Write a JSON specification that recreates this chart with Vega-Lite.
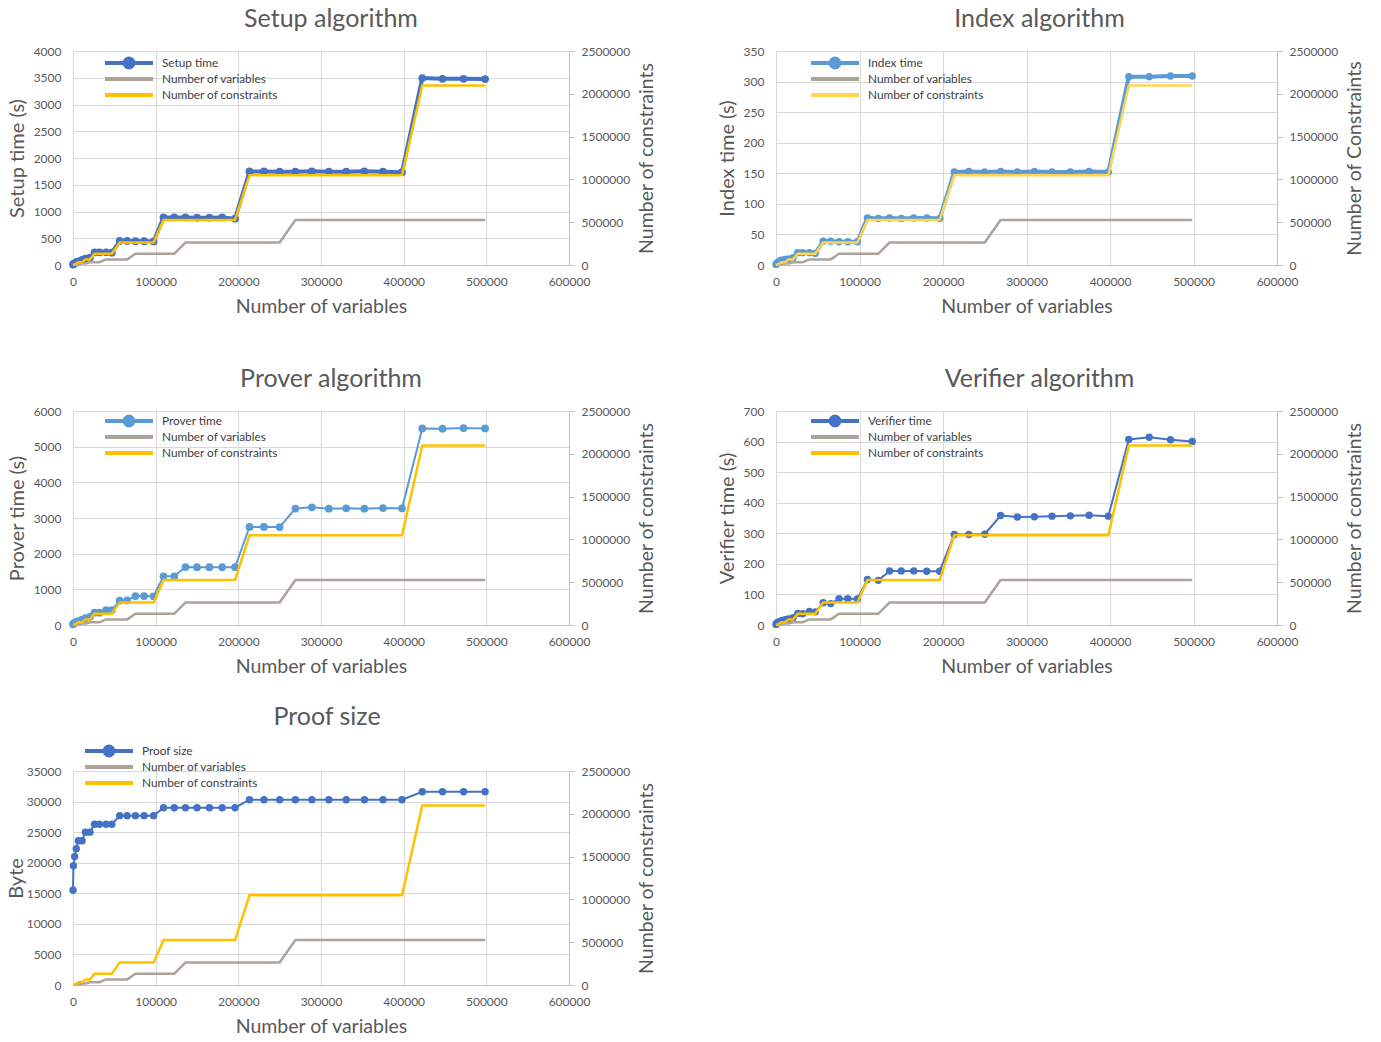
{
"$schema": "https://vega.github.io/schema/vega-lite/v6.json",
"background": "white",
"padding": {"left": 6, "top": 7, "right": 0, "bottom": 0},
"datasets": {
"t": [
{"x":0,"setup":8,"index":1,"prover":20,"verifier":2,"proof":15500,"vars":128,"cons":512},
{"x":500,"setup":20,"index":2,"prover":40,"verifier":5,"proof":19500,"vars":1024,"cons":2048},
{"x":2000,"setup":35,"index":4,"prover":60,"verifier":8,"proof":21000,"vars":2048,"cons":8192},
{"x":4000,"setup":55,"index":6,"prover":85,"verifier":11,"proof":22300,"vars":4096,"cons":16384},
{"x":6500,"setup":70,"index":8,"prover":110,"verifier":14,"proof":23600,"vars":8192,"cons":32768},
{"x":11000,"setup":95,"index":9,"prover":150,"verifier":17,"proof":23600,"vars":16384,"cons":32768},
{"x":15000,"setup":120,"index":10,"prover":190,"verifier":20,"proof":25000,"vars":16384,"cons":65536},
{"x":20500,"setup":140,"index":12,"prover":230,"verifier":24,"proof":25000,"vars":32768,"cons":65536},
{"x":26000,"setup":235,"index":20,"prover":345,"verifier":38,"proof":26300,"vars":32768,"cons":131072},
{"x":32000,"setup":235,"index":20,"prover":345,"verifier":37,"proof":26300,"vars":32768,"cons":131072},
{"x":40000,"setup":235,"index":20,"prover":420,"verifier":44,"proof":26300,"vars":65536,"cons":131072},
{"x":47000,"setup":230,"index":19,"prover":415,"verifier":43,"proof":26300,"vars":65536,"cons":131072},
{"x":56500,"setup":450,"index":39,"prover":680,"verifier":73,"proof":27700,"vars":65536,"cons":262144},
{"x":65500,"setup":450,"index":39,"prover":690,"verifier":70,"proof":27700,"vars":65536,"cons":262144},
{"x":75500,"setup":445,"index":38,"prover":810,"verifier":86,"proof":27700,"vars":131072,"cons":262144},
{"x":86000,"setup":445,"index":38,"prover":810,"verifier":86,"proof":27700,"vars":131072,"cons":262144},
{"x":97500,"setup":440,"index":38,"prover":805,"verifier":85,"proof":27700,"vars":131072,"cons":262144},
{"x":109500,"setup":890,"index":77,"prover":1365,"verifier":149,"proof":29000,"vars":131072,"cons":524288},
{"x":122500,"setup":890,"index":76,"prover":1365,"verifier":146,"proof":29000,"vars":131072,"cons":524288},
{"x":136000,"setup":890,"index":77,"prover":1625,"verifier":177,"proof":29000,"vars":262144,"cons":524288},
{"x":150000,"setup":885,"index":76,"prover":1620,"verifier":177,"proof":29000,"vars":262144,"cons":524288},
{"x":165000,"setup":885,"index":77,"prover":1620,"verifier":177,"proof":29000,"vars":262144,"cons":524288},
{"x":180500,"setup":890,"index":77,"prover":1620,"verifier":176,"proof":29000,"vars":262144,"cons":524288},
{"x":196000,"setup":865,"index":76,"prover":1620,"verifier":176,"proof":29000,"vars":262144,"cons":524288},
{"x":213500,"setup":1750,"index":152,"prover":2750,"verifier":296,"proof":30300,"vars":262144,"cons":1048576},
{"x":231000,"setup":1750,"index":153,"prover":2750,"verifier":296,"proof":30300,"vars":262144,"cons":1048576},
{"x":250000,"setup":1745,"index":152,"prover":2745,"verifier":297,"proof":30300,"vars":262144,"cons":1048576},
{"x":269000,"setup":1745,"index":153,"prover":3265,"verifier":358,"proof":30300,"vars":524288,"cons":1048576},
{"x":289000,"setup":1750,"index":152,"prover":3300,"verifier":353,"proof":30300,"vars":524288,"cons":1048576},
{"x":309500,"setup":1745,"index":153,"prover":3260,"verifier":354,"proof":30300,"vars":524288,"cons":1048576},
{"x":330500,"setup":1745,"index":152,"prover":3270,"verifier":356,"proof":30300,"vars":524288,"cons":1048576},
{"x":352500,"setup":1750,"index":152,"prover":3260,"verifier":357,"proof":30300,"vars":524288,"cons":1048576},
{"x":375000,"setup":1745,"index":153,"prover":3280,"verifier":359,"proof":30300,"vars":524288,"cons":1048576},
{"x":398000,"setup":1735,"index":152,"prover":3270,"verifier":356,"proof":30300,"vars":524288,"cons":1048576},
{"x":422500,"setup":3495,"index":308,"prover":5510,"verifier":607,"proof":31600,"vars":524288,"cons":2097152},
{"x":447000,"setup":3480,"index":308,"prover":5505,"verifier":614,"proof":31600,"vars":524288,"cons":2097152},
{"x":472500,"setup":3480,"index":309,"prover":5520,"verifier":606,"proof":31600,"vars":524288,"cons":2097152},
{"x":498500,"setup":3475,"index":309,"prover":5510,"verifier":600,"proof":31600,"vars":524288,"cons":2097152}
]
},
"columns": 2,
"spacing": {"row": 146, "column": 207},
"bounds": "flush",
"resolve": {"scale": {"color": "independent"}, "legend": {"color": "independent"}},
"concat": [
{
"width": 496, "height": 214,
"title": {"text": "Setup algorithm", "dx": 10},
"data": {"name": "t"},
"encoding": {"x": {"field": "x", "type": "quantitative", "scale": {"domain": [0, 600000], "nice": false}, "axis": {"title": "Number of variables", "values": [0,100000,200000,300000,400000,500000,600000]}}},
"resolve": {"scale": {"y": "independent"}, "axis": {"y": "independent"}},
"layer": [
{"mark": {"type": "line", "strokeWidth": 4, "point": {"filled": true, "size": 60}},
 "encoding": {
  "y": {"field": "setup", "type": "quantitative", "scale": {"domain": [0, 4000], "nice": false}, "axis": {"title": "Setup time (s)", "values": [0,500,1000,1500,2000,2500,3000,3500,4000]}},
  "color": {"datum": "Setup time", "scale": {"domain": ["Setup time", "Number of variables", "Number of constraints"], "range": ["#4472C4", "#ADA39B", "#FFC000"]},
   "legend": {"legendX": 32, "legendY": 4, "encode": {"symbols": {"update": {"shape": {"signal": "datum.value === 'Setup time' ? 'M-1,-0.25L5,-0.25L5,0.25L-1,0.25Z M2.8,0L2.739,0.306L2.566,0.566L2.306,0.739L2,0.8L1.694,0.739L1.434,0.566L1.261,0.306L1.2,0L1.261,-0.306L1.434,-0.566L1.694,-0.739L2,-0.8L2.306,-0.739L2.566,-0.566L2.739,-0.306Z' : 'M-1,-0.25L5,-0.25L5,0.25L-1,0.25Z M2,-0.8L2,-0.8Z M2,0.8L2,0.8Z'"}, "fill": {"signal": "datum.value === 'Setup time' ? '#00B0F0' : datum.value === 'Number of variables' ? '#A5A5A5' : '#FFC000'"}, "stroke": {"value": "transparent"}, "strokeWidth": {"value": 0}}}}}}
 }},
{"mark": {"type": "line", "strokeWidth": 2.5},
 "encoding": {
  "y": {"field": "vars", "type": "quantitative", "scale": {"domain": [0, 2500000], "nice": false}, "axis": {"orient": "right", "title": "Number of constraints", "values": [0,500000,1000000,1500000,2000000,2500000], "grid": false, "domain": true, "ticks": true, "tickSize": 5, "labelPadding": 7, "titlePadding": 8, "titleFontSize": 19.5, "titleAngle": 270, "titleBaseline": "top"}},
  "color": {"datum": "Number of variables"}
 }},
{"mark": {"type": "line", "strokeWidth": 2.5},
 "encoding": {
  "y": {"field": "cons", "type": "quantitative", "scale": {"domain": [0, 2500000], "nice": false}, "axis": null},
  "color": {"datum": "Number of constraints"}
 }}
]
},
{
"width": 501, "height": 214,
"title": {"text": "Index algorithm", "dx": 13},
"data": {"name": "t"},
"encoding": {"x": {"field": "x", "type": "quantitative", "scale": {"domain": [0, 600000], "nice": false}, "axis": {"title": "Number of variables", "values": [0,100000,200000,300000,400000,500000,600000]}}},
"resolve": {"scale": {"y": "independent"}, "axis": {"y": "independent"}},
"layer": [
{"mark": {"type": "line", "strokeWidth": 4, "point": {"filled": true, "size": 55}},
 "encoding": {
  "y": {"field": "index", "type": "quantitative", "scale": {"domain": [0, 350], "nice": false}, "axis": {"title": "Index time (s)", "values": [0,50,100,150,200,250,300,350]}},
  "color": {"datum": "Index time", "scale": {"domain": ["Index time", "Number of variables", "Number of constraints"], "range": ["#5B9BD5", "#ADA39B", "#FFD54F"]},
   "legend": {"legendX": 35, "legendY": 4, "encode": {"symbols": {"update": {"shape": {"signal": "datum.value === 'Index time' ? 'M-1,-0.25L5,-0.25L5,0.25L-1,0.25Z M2.8,0L2.739,0.306L2.566,0.566L2.306,0.739L2,0.8L1.694,0.739L1.434,0.566L1.261,0.306L1.2,0L1.261,-0.306L1.434,-0.566L1.694,-0.739L2,-0.8L2.306,-0.739L2.566,-0.566L2.739,-0.306Z' : 'M-1,-0.25L5,-0.25L5,0.25L-1,0.25Z M2,-0.8L2,-0.8Z M2,0.8L2,0.8Z'"}, "fill": {"signal": "datum.value === 'Index time' ? '#00B0F0' : datum.value === 'Number of variables' ? '#A5A5A5' : '#FFC000'"}, "stroke": {"value": "transparent"}, "strokeWidth": {"value": 0}}}}}}
 }},
{"mark": {"type": "line", "strokeWidth": 2.5},
 "encoding": {
  "y": {"field": "vars", "type": "quantitative", "scale": {"domain": [0, 2500000], "nice": false}, "axis": {"orient": "right", "title": "Number of Constraints", "values": [0,500000,1000000,1500000,2000000,2500000], "grid": false, "domain": true, "ticks": true, "tickSize": 5, "labelPadding": 7, "titlePadding": 8, "titleFontSize": 19.5, "titleAngle": 270, "titleBaseline": "top"}},
  "color": {"datum": "Number of variables"}
 }},
{"mark": {"type": "line", "strokeWidth": 2.5},
 "encoding": {
  "y": {"field": "cons", "type": "quantitative", "scale": {"domain": [0, 2500000], "nice": false}, "axis": null},
  "color": {"datum": "Number of constraints"}
 }}
]
},
{
"width": 496, "height": 214,
"title": {"text": "Prover algorithm", "dx": 10},
"data": {"name": "t"},
"encoding": {"x": {"field": "x", "type": "quantitative", "scale": {"domain": [0, 600000], "nice": false}, "axis": {"title": "Number of variables", "values": [0,100000,200000,300000,400000,500000,600000]}}},
"resolve": {"scale": {"y": "independent"}, "axis": {"y": "independent"}},
"layer": [
{"mark": {"type": "line", "strokeWidth": 2, "point": {"filled": true, "size": 60}},
 "encoding": {
  "y": {"field": "prover", "type": "quantitative", "scale": {"domain": [0, 6000], "nice": false}, "axis": {"title": "Prover time (s)", "values": [0,1000,2000,3000,4000,5000,6000]}},
  "color": {"datum": "Prover time", "scale": {"domain": ["Prover time", "Number of variables", "Number of constraints"], "range": ["#5B9BD5", "#ADA39B", "#FFC000"]},
   "legend": {"legendX": 32, "legendY": 2, "encode": {"symbols": {"update": {"shape": {"signal": "datum.value === 'Prover time' ? 'M-1,-0.25L5,-0.25L5,0.25L-1,0.25Z M2.8,0L2.739,0.306L2.566,0.566L2.306,0.739L2,0.8L1.694,0.739L1.434,0.566L1.261,0.306L1.2,0L1.261,-0.306L1.434,-0.566L1.694,-0.739L2,-0.8L2.306,-0.739L2.566,-0.566L2.739,-0.306Z' : 'M-1,-0.25L5,-0.25L5,0.25L-1,0.25Z M2,-0.8L2,-0.8Z M2,0.8L2,0.8Z'"}, "fill": {"signal": "datum.value === 'Prover time' ? '#00B0F0' : datum.value === 'Number of variables' ? '#A5A5A5' : '#FFC000'"}, "stroke": {"value": "transparent"}, "strokeWidth": {"value": 0}}}}}}
 }},
{"mark": {"type": "line", "strokeWidth": 2.5},
 "encoding": {
  "y": {"field": "vars", "type": "quantitative", "scale": {"domain": [0, 2500000], "nice": false}, "axis": {"orient": "right", "title": "Number of constraints", "values": [0,500000,1000000,1500000,2000000,2500000], "grid": false, "domain": true, "ticks": true, "tickSize": 5, "labelPadding": 7, "titlePadding": 8, "titleFontSize": 19.5, "titleAngle": 270, "titleBaseline": "top"}},
  "color": {"datum": "Number of variables"}
 }},
{"mark": {"type": "line", "strokeWidth": 2.5},
 "encoding": {
  "y": {"field": "cons", "type": "quantitative", "scale": {"domain": [0, 2500000], "nice": false}, "axis": null},
  "color": {"datum": "Number of constraints"}
 }}
]
},
{
"width": 501, "height": 214,
"title": {"text": "Verifier algorithm", "dx": 13},
"data": {"name": "t"},
"encoding": {"x": {"field": "x", "type": "quantitative", "scale": {"domain": [0, 600000], "nice": false}, "axis": {"title": "Number of variables", "values": [0,100000,200000,300000,400000,500000,600000]}}},
"resolve": {"scale": {"y": "independent"}, "axis": {"y": "independent"}},
"layer": [
{"mark": {"type": "line", "strokeWidth": 2, "point": {"filled": true, "size": 55}},
 "encoding": {
  "y": {"field": "verifier", "type": "quantitative", "scale": {"domain": [0, 700], "nice": false}, "axis": {"title": "Verifier time (s)", "values": [0,100,200,300,400,500,600,700]}},
  "color": {"datum": "Verifier time", "scale": {"domain": ["Verifier time", "Number of variables", "Number of constraints"], "range": ["#4472C4", "#ADA39B", "#FFC000"]},
   "legend": {"legendX": 35, "legendY": 2, "encode": {"symbols": {"update": {"shape": {"signal": "datum.value === 'Verifier time' ? 'M-1,-0.25L5,-0.25L5,0.25L-1,0.25Z M2.8,0L2.739,0.306L2.566,0.566L2.306,0.739L2,0.8L1.694,0.739L1.434,0.566L1.261,0.306L1.2,0L1.261,-0.306L1.434,-0.566L1.694,-0.739L2,-0.8L2.306,-0.739L2.566,-0.566L2.739,-0.306Z' : 'M-1,-0.25L5,-0.25L5,0.25L-1,0.25Z M2,-0.8L2,-0.8Z M2,0.8L2,0.8Z'"}, "fill": {"signal": "datum.value === 'Verifier time' ? '#00B0F0' : datum.value === 'Number of variables' ? '#A5A5A5' : '#FFC000'"}, "stroke": {"value": "transparent"}, "strokeWidth": {"value": 0}}}}}}
 }},
{"mark": {"type": "line", "strokeWidth": 2.5},
 "encoding": {
  "y": {"field": "vars", "type": "quantitative", "scale": {"domain": [0, 2500000], "nice": false}, "axis": {"orient": "right", "title": "Number of constraints", "values": [0,500000,1000000,1500000,2000000,2500000], "grid": false, "domain": true, "ticks": true, "tickSize": 5, "labelPadding": 7, "titlePadding": 8, "titleFontSize": 19.5, "titleAngle": 270, "titleBaseline": "top"}},
  "color": {"datum": "Number of variables"}
 }},
{"mark": {"type": "line", "strokeWidth": 2.5},
 "encoding": {
  "y": {"field": "cons", "type": "quantitative", "scale": {"domain": [0, 2500000], "nice": false}, "axis": null},
  "color": {"datum": "Number of constraints"}
 }}
]
},
{
"width": 496, "height": 214,
"title": {"text": "Proof size", "dx": 6},
"data": {"name": "t"},
"encoding": {"x": {"field": "x", "type": "quantitative", "scale": {"domain": [0, 600000], "nice": false}, "axis": {"title": "Number of variables", "values": [0,100000,200000,300000,400000,500000,600000]}}},
"resolve": {"scale": {"y": "independent"}, "axis": {"y": "independent"}},
"layer": [
{"mark": {"type": "line", "strokeWidth": 2, "point": {"filled": true, "size": 55}},
 "encoding": {
  "y": {"field": "proof", "type": "quantitative", "scale": {"domain": [0, 35000], "nice": false}, "axis": {"title": "Byte", "titlePadding": 0, "values": [0,5000,10000,15000,20000,25000,30000,35000]}},
  "color": {"datum": "Proof size", "scale": {"domain": ["Proof size", "Number of variables", "Number of constraints"], "range": ["#4472C4", "#ADA39B", "#FFC000"]},
   "legend": {"legendX": 12, "legendY": -28, "encode": {"symbols": {"update": {"shape": {"signal": "datum.value === 'Proof size' ? 'M-1,-0.25L5,-0.25L5,0.25L-1,0.25Z M2.8,0L2.739,0.306L2.566,0.566L2.306,0.739L2,0.8L1.694,0.739L1.434,0.566L1.261,0.306L1.2,0L1.261,-0.306L1.434,-0.566L1.694,-0.739L2,-0.8L2.306,-0.739L2.566,-0.566L2.739,-0.306Z' : 'M-1,-0.25L5,-0.25L5,0.25L-1,0.25Z M2,-0.8L2,-0.8Z M2,0.8L2,0.8Z'"}, "fill": {"signal": "datum.value === 'Proof size' ? '#00B0F0' : datum.value === 'Number of variables' ? '#A5A5A5' : '#FFC000'"}, "stroke": {"value": "transparent"}, "strokeWidth": {"value": 0}}}}}}
 }},
{"mark": {"type": "line", "strokeWidth": 2.5},
 "encoding": {
  "y": {"field": "vars", "type": "quantitative", "scale": {"domain": [0, 2500000], "nice": false}, "axis": {"orient": "right", "title": "Number of constraints", "values": [0,500000,1000000,1500000,2000000,2500000], "grid": false, "domain": true, "ticks": true, "tickSize": 5, "labelPadding": 7, "titlePadding": 8, "titleFontSize": 19.5, "titleAngle": 270, "titleBaseline": "top"}},
  "color": {"datum": "Number of variables"}
 }},
{"mark": {"type": "line", "strokeWidth": 2.5},
 "encoding": {
  "y": {"field": "cons", "type": "quantitative", "scale": {"domain": [0, 2500000], "nice": false}, "axis": null},
  "color": {"datum": "Number of constraints"}
 }}
]
}
],
"config": {
 "font": "Lato",
 "view": {"stroke": null},
 "title": {"fontSize": 25, "fontWeight": "normal", "color": "#595959", "font": "Lato", "offset": 13, "anchor": "middle"},
 "axis": {"labelFont": "Lato", "labelFontSize": 12, "labelColor": "#595959", "titleFont": "Lato", "titleFontSize": 19.5, "titleFontWeight": "normal", "titleColor": "#595959", "gridColor": "#D9D9D9", "domainColor": "#BFBFBF", "tickColor": "#BFBFBF", "labelFlush": false, "labelOverlap": false, "format": "d"},
 "axisX": {"grid": true, "ticks": false, "domain": true, "labelPadding": 11, "titlePadding": 10},
 "axisY": {"grid": true, "ticks": false, "domain": false, "labelPadding": 12, "titlePadding": 6, "titleFontSize": 20},
 "legend": {"orient": "none", "title": null, "padding": 0, "offset": 0, "rowPadding": 1, "symbolSize": 256, "symbolStrokeWidth": 0, "symbolType": "M-1,-0.25L5,-0.25L5,0.25L-1,0.25Z", "labelOffset": 41, "labelFont": "Lato", "labelFontSize": 11.8, "labelColor": "#404040"}
}
}
